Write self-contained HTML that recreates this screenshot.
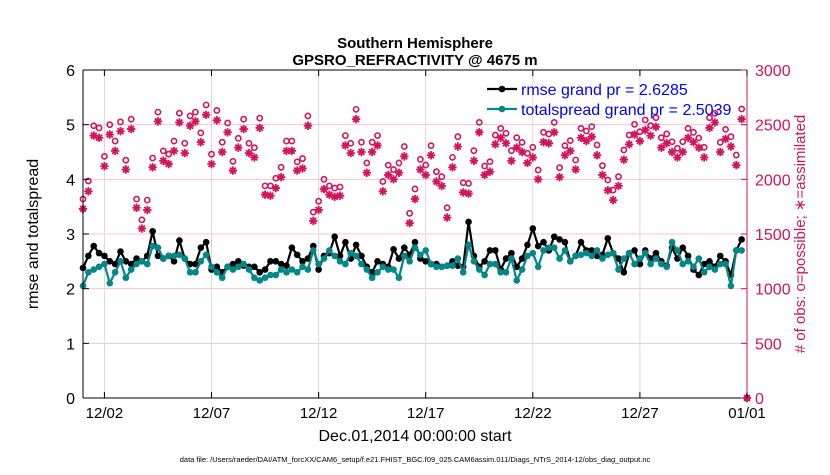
<!DOCTYPE html>
<html><head><meta charset="utf-8"><style>
body{margin:0;background:#fff;}
svg text{font-family:"Liberation Sans",sans-serif;}
</style></head><body>
<svg id="chart" width="830" height="470" viewBox="0 0 830 470" xmlns="http://www.w3.org/2000/svg">
<g id="grid"></g>
<g id="series"></g>
<g id="axes"></g>
</svg>
<script>
const rmse=[2.38,2.6,2.78,2.65,2.6,2.5,2.45,2.68,2.5,2.45,2.55,2.5,2.6,3.05,2.6,2.55,2.6,2.5,2.88,2.55,2.45,2.45,2.75,2.85,2.35,2.4,2.3,2.4,2.45,2.5,2.42,2.4,
2.4,2.3,2.35,2.5,2.5,2.45,2.42,2.75,2.62,2.5,2.55,2.78,2.35,2.6,2.65,2.95,2.6,2.85,2.55,2.8,2.6,2.4,2.3,2.5,2.45,2.4,2.72,2.55,2.75,2.62,2.85,
2.55,2.5,2.45,2.45,2.4,2.42,2.5,2.42,2.4,3.22,2.6,2.4,2.5,2.7,2.7,2.35,2.55,2.65,2.4,2.55,2.8,3.1,2.78,2.85,2.7,2.95,2.9,2.85,2.5,2.6,
2.85,2.7,2.7,2.6,2.62,2.92,2.65,2.55,2.3,2.65,2.7,2.45,2.7,2.55,2.65,2.5,2.42,2.75,2.55,2.75,2.6,2.35,2.25,2.45,2.5,2.4,2.6,2.5,2.25,2.7,2.9];
const spread=[2.05,2.3,2.35,2.4,2.45,2.1,2.3,2.5,2.2,2.35,2.45,2.5,2.45,2.78,2.75,2.55,2.6,2.6,2.62,2.55,2.3,2.3,2.5,2.62,2.4,2.3,2.2,2.4,2.35,2.4,2.45,2.35,
2.2,2.15,2.2,2.25,2.25,2.35,2.3,2.35,2.3,2.4,2.35,2.7,2.45,2.55,2.7,2.6,2.5,2.45,2.65,2.6,2.45,2.35,2.2,2.3,2.4,2.35,2.35,2.2,2.6,2.5,2.75,
2.62,2.7,2.45,2.4,2.4,2.42,2.42,2.55,2.3,2.8,2.5,2.35,2.25,2.45,2.45,2.3,2.3,2.55,2.15,2.35,2.6,2.65,2.4,2.7,2.75,2.75,2.55,2.7,2.5,2.6,
2.62,2.65,2.6,2.7,2.55,2.62,2.65,2.35,2.55,2.65,2.45,2.55,2.65,2.45,2.55,2.45,2.4,2.85,2.7,2.45,2.5,2.4,2.55,2.3,2.4,2.35,2.45,2.45,2.05,2.7,2.7];
const possible=[1820,1985,2490,2470,2210,2500,2350,2525,2175,2550,1820,1630,1810,2195,2615,2260,2230,2350,2605,2330,2580,2615,2425,2680,2230,2630,2340,2515,2165,2375,2550,2330,
2290,2560,1940,1940,2010,2110,2350,2350,2160,2190,2580,1700,1800,2000,1940,1920,1930,2400,2330,2640,2340,2150,2340,2400,1980,2130,2090,2150,2300,
1689,1912,2183,2131,2308,2070,2024,1740,2201,2390,1969,1963,2262,2521,2122,2162,2405,2466,2421,2262,2381,2338,2238,2293,2085,2430,2415,2521,2107,2308,2354,
2177,2466,2442,2482,2314,2125,1994,1902,2024,2268,2405,2503,2436,2543,2491,2564,2381,2415,2344,2284,2344,2466,2430,2378,2293,2564,2604,2338,2457,2390,2222,2643,0];
const assimilated=[1730,1890,2400,2380,2120,2410,2260,2440,2090,2460,1740,1550,1720,2110,2530,2170,2140,2260,2520,2240,2490,2530,2340,2590,2140,2540,2250,2430,2080,2290,2460,2240,
2200,2470,1860,1850,1920,2020,2260,2260,2080,2100,2490,1620,1720,1910,1860,1840,1850,2310,2240,2550,2250,2060,2250,2310,1890,2040,2000,2060,2210,
1600,1820,2090,2040,2220,1980,1940,1650,2110,2300,1880,1870,2170,2430,2040,2070,2320,2380,2330,2170,2290,2250,2150,2200,2000,2340,2330,2430,2020,2220,2260,
2090,2380,2350,2390,2220,2040,1900,1810,1940,2180,2320,2410,2350,2450,2400,2480,2290,2330,2250,2200,2250,2380,2340,2290,2200,2470,2520,2250,2370,2300,2130,2550,0];
const yTicksL=[0,1,2,3,4,5,6];
const yTicksR=[0,500,1000,1500,2000,2500,3000];
const xTickDays=[2,7,12,17,22,27,32];
const xTickLabels=["12/02","12/07","12/12","12/17","12/22","12/27","01/01"];

const L=83,R=747,T=70,B=398,RED="#d4145a",TEAL="#008787";
const xs=d=>L+(d-1)/31*(R-L);
const yl=v=>B-v/6*(B-T);
const yr=v=>B-v/3000*(B-T);
const dayOf=i=>1+i*0.25;
const NS="http://www.w3.org/2000/svg";
function mk(parent,tag,attrs,text){const e=document.createElementNS(NS,tag);for(const k in attrs)e.setAttribute(k,attrs[k]);if(text!==undefined)e.textContent=text;document.getElementById(parent).appendChild(e);return e;}

xTickDays.forEach((d,i)=>{const g=mk('grid','line',{x1:xs(d),x2:xs(d),y1:T,y2:B,stroke:'#d8d8d8','stroke-width':1});

});
yTicksR.forEach(v=>{const g=mk('grid','line',{x1:L,x2:R,y1:yr(v),y2:yr(v),stroke:'#f3c6d5','stroke-width':1});

});

possible.forEach((v,i)=>{const d=i<124?dayOf(i):32;
const c=mk('series','circle',{cx:xs(d),cy:yr(v),r:2.6,fill:'none',stroke:RED,'stroke-width':1.6});

});
assimilated.forEach((v,i)=>{const d=i<124?dayOf(i):32;const x=xs(d),y=yr(v),r=4.2,q=r*0.7;
const p=mk('series','path',{d:`M${x-r},${y}H${x+r}M${x},${y-r}V${y+r}M${x-q},${y-q}L${x+q},${y+q}M${x-q},${y+q}L${x+q},${y-q}`,stroke:RED,'stroke-width':1.8,fill:'none'});

});

function series(arr,col,name){
const pts=arr.map((v,i)=>xs(dayOf(i))+','+yl(v)).join(' ');
const p=mk('series','polyline',{points:pts,fill:'none',stroke:col,'stroke-width':2.2});


arr.forEach((v,i)=>{const c=mk('series','circle',{cx:xs(dayOf(i)),cy:yl(v),r:3.3,fill:col});

});}
series(rmse,'#000','rmse');
series(spread,TEAL,'totalspread');

const ax=[[L,T,R,T,'#000','top-axis'],[L,B,R,B,'#000','x-axis'],[L,T,L,B,'#000','left-y-axis'],[R,T,R,B,RED,'right-y-axis']];
ax.forEach(a=>{const l=mk('axes','line',{x1:a[0],y1:a[1],x2:a[2],y2:a[3],stroke:a[4],'stroke-width':1});

});
yTicksL.forEach(v=>{mk('axes','line',{x1:L,x2:L+6,y1:yl(v),y2:yl(v),stroke:'#000'});
const t=mk('axes','text',{x:L-8,y:yl(v)+6,'text-anchor':'end','font-size':16,fill:'#000'},v);

});
yTicksR.forEach(v=>{mk('axes','line',{x1:R-6,x2:R,y1:yr(v),y2:yr(v),stroke:RED});
const t=mk('axes','text',{x:R+8,y:yr(v)+6,'font-size':16,fill:RED},v);

});
xTickDays.forEach((d,i)=>{mk('axes','line',{x1:xs(d),x2:xs(d),y1:B,y2:B-6,stroke:'#000'});mk('axes','line',{x1:xs(d),x2:xs(d),y1:T,y2:T+6,stroke:'#000'});
const t=mk('axes','text',{x:xs(d),y:B+20,'text-anchor':'middle','font-size':15,fill:'#000'},xTickLabels[i]);

});
</script>
<svg style="position:absolute;left:0;top:0" width="830" height="470">
<text x="415" y="48" text-anchor="middle" font-size="15" font-weight="bold" font-family="Liberation Sans,sans-serif">Southern Hemisphere</text>
<text x="415" y="65" text-anchor="middle" font-size="15" font-weight="bold" font-family="Liberation Sans,sans-serif">GPSRO_REFRACTIVITY @ 4675 m</text>
<text transform="translate(38,234) rotate(-90)" text-anchor="middle" font-size="16" font-family="Liberation Sans,sans-serif">rmse and totalspread</text>
<text transform="translate(805,234) rotate(-90)" text-anchor="middle" font-size="15" fill="#d4145a" font-family="Liberation Sans,sans-serif"># of obs: o=possible; ∗=assimilated</text>
<text x="415" y="441" text-anchor="middle" font-size="16" font-family="Liberation Sans,sans-serif">Dec.01,2014 00:00:00 start</text>
<text x="415" y="462" text-anchor="middle" font-size="7.5" font-family="Liberation Sans,sans-serif">data file: /Users/raeder/DAI/ATM_forcXX/CAM6_setup/f.e21.FHIST_BGC.f09_025.CAM6assim.011/Diags_NTrS_2014-12/obs_diag_output.nc</text>
<g>
<line x1="487" y1="89" x2="517" y2="89" stroke="#000" stroke-width="2.2"/><circle cx="502" cy="89" r="3.3"/>
<text x="521" y="95" font-size="16" fill="#0000ff" font-family="Liberation Sans,sans-serif">rmse grand pr = 2.6285</text></g>
<g>
<line x1="487" y1="109" x2="517" y2="109" stroke="#008787" stroke-width="2.2"/><circle cx="502" cy="109" r="3.3" fill="#008787"/>
<text x="521" y="115" font-size="16" fill="#0000ff" font-family="Liberation Sans,sans-serif">totalspread grand pr = 2.5039</text></g>
</svg>
</body></html>
